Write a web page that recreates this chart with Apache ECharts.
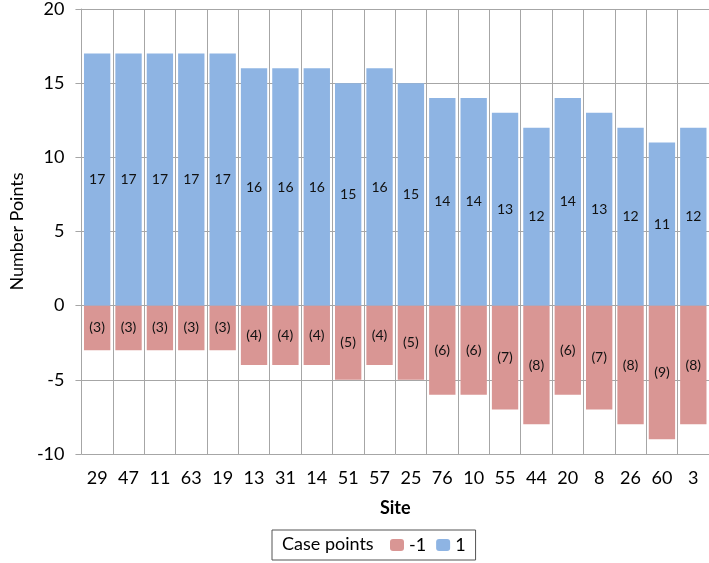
<!DOCTYPE html>
<html>
<head>
<meta charset="utf-8">
<script src="https://cdn.jsdelivr.net/npm/echarts@6/dist/echarts.min.js"></script>
<style>
  html, body { margin: 0; padding: 0; background: #fff; }
  #chart { width: 709px; height: 563px; }
</style>
</head>
<body>
<div id="chart"></div>
<script>
// 数据
const sites = ['29', '47', '11', '63', '19', '13', '31', '14', '51', '57', '25', '76', '10', '55', '44', '20', '8', '26', '60', '3']
const positivePoints = [17, 17, 17, 17, 17, 16, 16, 16, 15, 16, 15, 14, 14, 13, 12, 14, 13, 12, 11, 12]
const negativePoints = [-3, -3, -3, -3, -3, -4, -4, -4, -5, -4, -5, -6, -6, -7, -8, -6, -7, -8, -9, -8]
const yTicks = [-10, -5, 0, 5, 10, 15, 20]

const chart = echarts.init(document.getElementById('chart'))
const font = 'Lato, "Open Sans", sans-serif'
const gridColor = '#a6a6a6'

const option = {
  animation: false,
  textStyle: { fontFamily: font },
  grid: { left: 68, right: 0, top: 7, bottom: 109 },
  xAxis: {
    type: 'category',
    data: sites,
    name: 'Site',
    nameLocation: 'middle',
    nameGap: 45,
    nameTextStyle: { fontSize: 18, fontWeight: 'bold', color: '#000', fontFamily: font },
    axisLine: { show: false },
    axisTick: { show: false },
    axisLabel: { fontSize: 18, color: '#000', margin: 15 },
    splitLine: { show: true, lineStyle: { color: gridColor, width: 1 } }
  },
  yAxis: {
    type: 'value',
    min: yTicks[0],
    max: yTicks[yTicks.length - 1],
    interval: 5,
    name: 'Number Points',
    nameLocation: 'middle',
    nameGap: 50,
    nameTextStyle: { fontSize: 18, color: '#000', fontFamily: font },
    axisLine: { show: true, lineStyle: { color: gridColor } },
    axisTick: { show: true, inside: false, length: 6, lineStyle: { color: gridColor } },
    axisLabel: { fontSize: 18, color: '#000', margin: 17 },
    splitLine: { show: true, lineStyle: { color: gridColor, width: 1 } }
  },
  legend: {
    left: 272,
    top: 530,
    padding: [6, 10, 6, 118],
    itemWidth: 14,
    itemHeight: 12,
    itemGap: 10,
    borderColor: '#555',
    borderWidth: 1,
    textStyle: { fontSize: 18, color: '#000', fontFamily: font },
    data: ['-1', '1']
  },
  graphic: [{
    type: 'text',
    left: 282,
    top: 535,
    style: { text: 'Case points', fontSize: 18, fill: '#000', fontFamily: font }
  }],
  series: [
    {
      name: '1',
      type: 'bar',
      stack: 'points',
      data: positivePoints,
      barCategoryGap: '16%',
      itemStyle: { color: '#8eb4e3' },
      label: {
        show: true,
        position: 'inside',
        fontSize: 14,
        color: '#111',
        fontFamily: font
      }
    },
    {
      name: '-1',
      type: 'bar',
      stack: 'points',
      data: negativePoints,
      barCategoryGap: '16%',
      itemStyle: { color: '#d99694' },
      label: {
        show: true,
        position: 'inside',
        fontSize: 14,
        color: '#111',
        fontFamily: font,
        formatter: function (p) { return '(' + Math.abs(p.value) + ')' }
      }
    }
  ]
}

chart.setOption(option)
</script>
</body>
</html>
